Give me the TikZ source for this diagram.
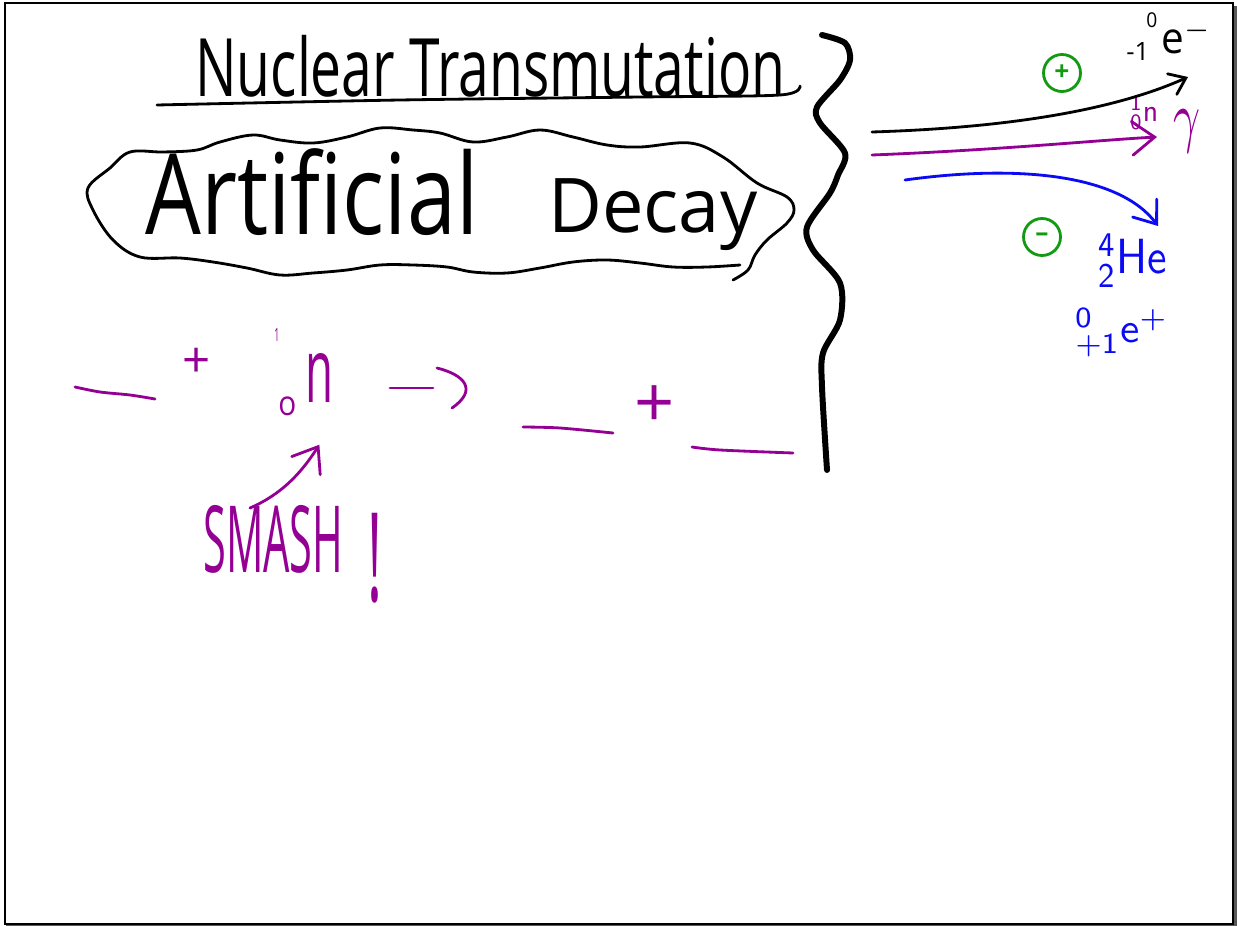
\documentclass[tikz,border=0pt]{standalone}
\usepackage{fontspec}
\setmainfont{Open Sans}
\usepackage{graphicx}
\usetikzlibrary{arrows.meta,calc}
\definecolor{ink}{HTML}{000000}
\definecolor{plum}{HTML}{930093}
\definecolor{pen}{HTML}{0A0AF5}
\definecolor{leaf}{HTML}{129A12}
\newcommand{\fitto}[3]{\resizebox*{#1}{#2}{#3}}

\begin{document}
\begin{tikzpicture}[x=0.02cm, y=-0.02cm,
  every node/.style={inner sep=0pt, anchor=north west},
  handline/.style={line width=1.6pt, line cap=round, line join=round},
  thickline/.style={line width=3.4pt, line cap=round, line join=round},
  barb/.style={-{Straight Barb[length=#1, width=1.5*#1, line cap=round]}},
  circled/.style={circle, draw=leaf, handline, text=leaf, minimum size=0.74cm, anchor=center, font=\fontsize{15}{15}\selectfont\bfseries}]
\useasboundingbox (0,0) rectangle (1237,926);
\fill[white] (0,0) rectangle (1237,926);
\draw[line width=1.1pt] (5,3) rectangle (1233,924);
\fill[black!65] (1234,6) rectangle (1237,926);
\fill[black!65] (6,925) rectangle (1237,926);

% heading
\node (title) at (195,35) {\fitto{11.8cm}{1.24cm}{Nuclear Transmutation}};
\draw[handline] plot[smooth] coordinates {(157,105) (400,100) (640,97) (780,95) (800,86)};
\node (artificial) at (145,148) {\fitto{6.66cm}{1.74cm}{Artificial}};
\node (decay) at (548,178) {\fitto{4.18cm}{1.44cm}{Decay}};
\draw[handline] plot[smooth, tension=0.6] coordinates {(733,280) (748,270) (755,255) (767,240) (787,223) (794,210) (787,197) (757,183) (723,157) (690,143) (640,147) (607,145) (573,137) (540,130) (507,137) (473,142) (440,133) (413,130) (380,128) (347,137) (313,143) (280,140) (253,135) (220,142) (197,150) (163,152) (130,152) (110,168) (88,188) (93,210) (113,240) (140,257) (180,258) (213,262) (247,268) (280,275) (313,273) (347,270) (380,265) (413,265) (447,267) (473,272) (507,273) (540,268) (573,262) (607,260) (640,263) (673,267) (707,267) (740,265)};

% divider
\draw[thickline] plot[smooth] coordinates {(822,35) (845,43) (850,60) (840,80) (817,107) (820,123) (845,153) (838,175) (830,193) (807,227) (813,250) (840,283) (840,320) (823,353) (822,387) (827,470)};

% decay products
\node[text=ink] (emass) at (1146,12) {\fitto{0.22cm}{0.3cm}{0}};
\node[text=ink] (echarge) at (1126,42) {\fitto{0.46cm}{0.36cm}{-1}};
\node[text=ink] (eminus) at (1161,19) {\fitto{1.0cm}{0.7cm}{e$^{-}$}};
\node[text=plum] (nright) at (1130,95) {\fitto{0.56cm}{0.7cm}{$^{\mathsf{1}}_{\mathsf{0}}\mathsf{n}$}};
\node[text=plum] (gamma) at (1173,110) {\fitto{0.54cm}{0.86cm}{$\gamma$}};
\node[text=pen] (helium) at (1098,233) {\fitto{1.38cm}{1.08cm}{$^{\mathsf{4}}_{\mathsf{2}}\mathsf{He}$}};
\node[text=pen] (eplus) at (1075,307) {\fitto{1.86cm}{1.0cm}{$^{\mathsf{0}}_{\mathsf{+1}}\mathsf{e}^{+}$}};
\node[circled] (pos) at (1062,73) {+};
\node[circled] (neg) at (1042,237) {--};
\coordinate (kstart) at (872,132);
\coordinate (kend) at (1188,77);
\coordinate (pstart) at (872,155);
\coordinate (pend) at (1157,137);
\coordinate (bstart) at (905,180);
\coordinate (bend) at (1158,226);
\draw[handline, ink, barb=0.3cm] (kstart) .. controls (1000,128) and (1110,112) .. (kend);
\draw[handline, plum, barb=0.45cm] (pstart) .. controls (1000,150) and (1100,140) .. (pend);
\draw[handline, pen, barb=0.4cm] (bstart) .. controls (1020,164) and (1120,175) .. (bend);

% reaction
\draw[handline, plum] plot[smooth] coordinates {(75,387) (100,392) (130,395) (155,399)};
\node[text=plum, anchor=center, font=\fontsize{28}{28}\selectfont] (plusa) at (197,363) {+};
\node[text=plum] (nmass) at (274,328) {\fitto{0.1cm}{0.26cm}{1}};
\node[text=plum] (ncharge) at (278,396) {\fitto{0.36cm}{0.38cm}{o}};
\node[text=plum] (neutron) at (305,353) {\fitto{0.56cm}{0.98cm}{n}};
\draw[handline, plum] (390,388) -- (433,388);
\draw[handline, plum] (437,368) .. controls (465,375) and (478,390) .. (452,408);
\draw[handline, plum] plot[smooth] coordinates {(523,427) (560,428) (613,433)};
\node[text=plum, anchor=center, font=\fontsize{40}{40}\selectfont] (plusb) at (655,407) {+};
\draw[handline, plum] plot[smooth] coordinates {(692,447) (720,450) (793,453)};
\node[text=plum] (smash) at (203,505) {\fitto{2.8cm}{1.36cm}{SMASH}};
\node[text=plum, anchor=north] (bang) at (375,513) {\fitto{0.3cm}{1.8cm}{!}};
\draw[handline, plum, barb=0.45cm] ($(smash.north west)+(47,3)$) .. controls (280,495) and (300,475) .. ($(neutron.south)+(0,42)$);
\end{tikzpicture}
\end{document}
